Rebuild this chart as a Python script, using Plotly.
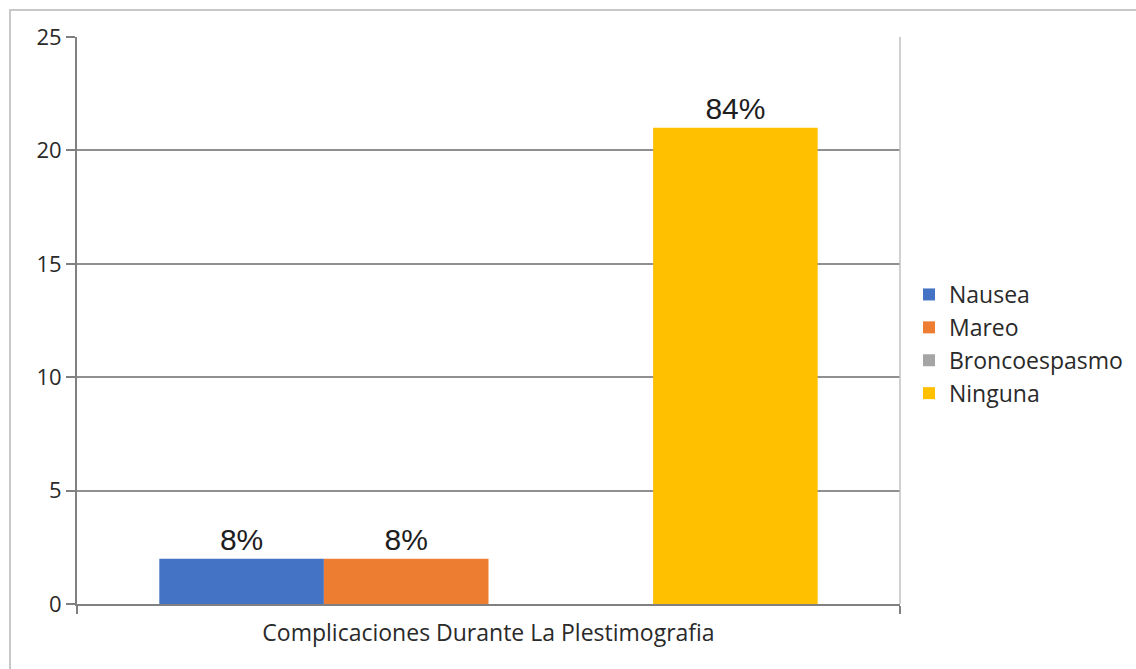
import plotly.graph_objects as go

# Chart data
categories = ["Complicaciones Durante La Plestimografia"]
series_names = ["Nausea", "Mareo", "Broncoespasmo", "Ninguna"]
series_values = [[2], [2], [0], [21]]
series_labels = [["8%"], ["8%"], [""], ["84%"]]
series_colors = ["#4472c4", "#ed7d31", "#a5a5a5", "#ffc000"]
y_ticks = [0, 5, 10, 15, 20, 25]

W, H = 1136, 669
ML, MR, MT, MB = 77, 236, 37, 65
pw = W - ML - MR
ph = H - MT - MB

TEXT_FONT = "Open Sans, Noto Sans, sans-serif"

fig = go.Figure()
for name, vals, labels, color in zip(series_names, series_values, series_labels, series_colors):
    fig.add_trace(go.Bar(
        name=name,
        x=categories,
        y=vals,
        text=labels,
        textposition="outside",
        textfont=dict(family="Liberation Sans, Arial, sans-serif", size=30, color="#1e1e1e"),
        marker=dict(color=color, line=dict(width=0)),
        cliponaxis=False,
    ))

# Outer frame around the chart
fig.add_shape(
    type="rect", xref="paper", yref="paper",
    x0=(10 - ML) / pw, x1=1.6,
    y0=-0.6, y1=(H - MB - 10) / ph,
    line=dict(color="#c8c8c8", width=2),
    fillcolor="rgba(0,0,0,0)", layer="below",
)

fig.update_layout(
    width=W, height=H,
    margin=dict(l=ML, r=MR, t=MT, b=MB, autoexpand=False),
    paper_bgcolor="white",
    plot_bgcolor="white",
    barmode="group",
    bargap=0.2,
    bargroupgap=0,
    font=dict(family=TEXT_FONT, size=23, color="#2a2a2a"),
    showlegend=True,
    legend=dict(
        x=(909 - ML) / pw, xanchor="left",
        y=(H - MB - 344) / ph, yanchor="middle",
        font=dict(family=TEXT_FONT, size=23, color="#2a2a2a"),
        bgcolor="rgba(0,0,0,0)",
        itemwidth=30,
        tracegroupgap=0,
    ),
    xaxis=dict(
        showgrid=False,
        showline=True, linecolor="#808080", linewidth=2,
        ticks="outside", tickson="boundaries", ticklen=8, tickcolor="#808080", tickwidth=2,
        tickfont=dict(family=TEXT_FONT, size=23, color="#2a2a2a"),
        ticklabelstandoff=7,
        mirror=False,
        automargin=False,
    ),
    yaxis=dict(
        range=[0, 25],
        tickvals=y_ticks,
        showgrid=True, gridcolor="#909090", gridwidth=1.5,
        showline=True, linecolor="#808080", linewidth=2,
        ticks="outside", ticklen=9, tickcolor="#808080", tickwidth=2,
        tickfont=dict(family=TEXT_FONT, size=22, color="#2a2a2a"),
        zeroline=False,
        automargin=False,
    ),
)

# Right-hand border of the plot area
fig.add_shape(
    type="line", xref="paper", yref="paper",
    x0=1, x1=1, y0=0, y1=1,
    line=dict(color="#c0c0c0", width=1.5),
)

fig.write_html("out.html")
